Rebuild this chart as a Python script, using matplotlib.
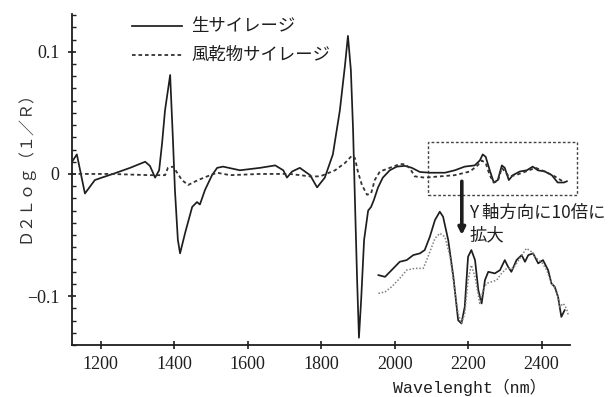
import matplotlib
matplotlib.use("Agg")
import matplotlib.pyplot as plt
from matplotlib.patches import Rectangle
from matplotlib.ticker import MultipleLocator

plt.rcParams['font.family'] = ['Liberation Serif', 'Noto Sans CJK JP']
JP = ['Noto Sans CJK JP', 'DejaVu Sans']

# second-derivative spectra, fresh silage (solid)
fresh_nm = [1122, 1135, 1157, 1184, 1203, 1233, 1280, 1321, 1334, 1348, 1359, 1367,
            1375, 1389, 1397, 1402, 1410, 1416, 1430, 1449, 1462, 1470, 1484, 1503,
            1517, 1533, 1579, 1634, 1675, 1697, 1707, 1721, 1742, 1770, 1789, 1810,
            1832, 1851, 1865, 1873, 1881, 1887, 1892, 1898, 1903, 1909, 1917, 1928,
            1936, 1944, 1955, 1968, 1987, 2006, 2028, 2047, 2069, 2096, 2137, 2164,
            2191, 2218, 2232, 2240, 2248, 2259, 2270, 2281, 2292, 2300, 2311, 2322,
            2341, 2360, 2376, 2390, 2409, 2428, 2444, 2461, 2469]
fresh_d2 = [0.010, 0.016, -0.016, -0.005, -0.003, 0.000, 0.005, 0.010, 0.0066, -0.003,
            0.003, 0.025, 0.052, 0.081, 0.025, -0.013, -0.054, -0.065, -0.048, -0.027,
            -0.023, -0.025, -0.013, -0.001, 0.005, 0.006, 0.003, 0.005, 0.007, 0.003,
            -0.003, 0.002, 0.005, -0.001, -0.011, -0.003, 0.016, 0.052, 0.089, 0.113,
            0.085, 0.036, -0.021, -0.087, -0.134, -0.103, -0.054, -0.030, -0.027,
            -0.021, -0.011, -0.003, 0.003, 0.006, 0.0066, 0.005, 0.0016, 0.001, 0.001,
            0.003, 0.006, 0.007, 0.011, 0.016, 0.014, 0.003, -0.007, -0.005, 0.007,
            0.005, -0.005, -0.001, 0.002, 0.003, 0.006, 0.003, 0.002, -0.001, -0.007,
            -0.007, -0.006]

# air-dried silage (dotted)
dried_nm = [1122, 1226, 1334, 1375, 1383, 1397, 1408, 1421, 1438, 1465, 1498, 1517,
            1552, 1634, 1715, 1770, 1797, 1838, 1865, 1884, 1892, 1900, 1911, 1925,
            1936, 1946, 1960, 1987, 2014, 2028, 2041, 2055, 2082, 2123, 2164, 2205,
            2226, 2237, 2248, 2259, 2270, 2281, 2292, 2311, 2330, 2357, 2384, 2409,
            2436, 2463]
dried_d2 = [0.000, 0.000, -0.001, -0.001, 0.005, 0.006, 0.001, -0.005, -0.009, -0.005,
            -0.001, 0.001, -0.001, 0.000, 0.000, -0.002, -0.002, 0.003, 0.009, 0.015,
            0.013, 0.002, -0.009, -0.017, -0.016, -0.005, 0.002, 0.005, 0.008, 0.008,
            0.005, -0.002, -0.003, -0.002, -0.001, 0.002, 0.007, 0.011, 0.009, -0.001,
            -0.007, -0.006, 0.005, -0.002, -0.001, 0.002, 0.005, 0.002, -0.002, -0.007]

# 10x expanded view of 1950-2470 nm, shown below the main trace
zoom_fresh_nm = [1956, 1974, 1992, 2014, 2033, 2051, 2069, 2082, 2096, 2110, 2123,
                 2132, 2146, 2160, 2173, 2182, 2191, 2200, 2209, 2219, 2228, 2237,
                 2246, 2255, 2273, 2287, 2300, 2309, 2318, 2332, 2346, 2355, 2364,
                 2377, 2391, 2404, 2418, 2427, 2436, 2445, 2454, 2463]
zoom_fresh_y = [-0.0828, -0.0842, -0.0787, -0.0719, -0.0705, -0.0664, -0.0650, -0.0623,
                -0.0514, -0.0377, -0.0309, -0.0350, -0.0541, -0.0842, -0.1197, -0.1224,
                -0.1088, -0.0678, -0.0623, -0.0705, -0.0951, -0.1060, -0.0869, -0.0801,
                -0.0814, -0.0787, -0.0705, -0.0760, -0.0801, -0.0705, -0.0664, -0.0719,
                -0.0664, -0.0650, -0.0732, -0.0705, -0.0787, -0.0896, -0.0924, -0.1006,
                -0.1170, -0.1115]
zoom_dried_nm = [1956, 1974, 1992, 2014, 2033, 2055, 2078, 2091, 2110, 2123, 2137, 2151,
                 2164, 2173, 2182, 2191, 2200, 2209, 2219, 2232, 2241, 2250, 2264, 2278,
                 2291, 2305, 2323, 2341, 2359, 2373, 2386, 2400, 2414, 2427, 2441, 2450,
                 2459, 2468, 2473]
zoom_dried_y = [-0.0978, -0.0965, -0.0924, -0.0855, -0.0787, -0.0773, -0.0773, -0.0678,
                -0.0527, -0.0486, -0.0514, -0.0678, -0.0951, -0.1142, -0.1224, -0.1142,
                -0.0869, -0.0746, -0.0842, -0.1060, -0.0951, -0.0896, -0.0883, -0.0869,
                -0.0814, -0.0773, -0.0773, -0.0691, -0.0609, -0.0637, -0.0691, -0.0719,
                -0.0787, -0.0896, -0.0951, -0.1088, -0.1060, -0.1101, -0.1156]

x_ticks = [1200, 1400, 1600, 1800, 2000, 2200, 2400]
y_ticks = [-0.1, 0, 0.1]
y_tick_labels = ['\u22120.1', '0', '0.1']

ink = '#1e1e1e'

fig = plt.figure(figsize=(6.16, 3.97), dpi=100)
ax = fig.add_axes([0.117, 0.131, 0.808, 0.834])

ax.plot(fresh_nm, fresh_d2, color=ink, lw=1.25)
ax.plot(dried_nm, dried_d2, color='#333333', lw=1.3, linestyle=(0, (2, 1.6)))
ax.plot(zoom_fresh_nm, zoom_fresh_y, color=ink, lw=1.25)
ax.plot(zoom_dried_nm, zoom_dried_y, color='#808080', lw=1.1, linestyle=(0, (1, 1.2)))

ax.set_xlim(1122, 2477)
ax.set_ylim(-0.140, 0.131)
for side in ['top', 'right']:
    ax.spines[side].set_visible(False)
for side in ['left', 'bottom']:
    ax.spines[side].set_linewidth(1.3)
    ax.spines[side].set_color(ink)

ax.set_xticks(x_ticks)
ax.set_yticks(y_ticks)
ax.set_yticklabels(y_tick_labels)
ax.yaxis.set_minor_locator(MultipleLocator(0.01))
ax.tick_params(axis='both', which='major', direction='inout', length=6, width=1.2,
               color=ink, labelsize=13, labelcolor=ink)
ax.tick_params(axis='x', which='major', pad=5)
ax.tick_params(axis='y', which='major', pad=6)
ax.tick_params(axis='y', which='minor', direction='in', length=3, width=1.0, color=ink)

# legend drawn by hand
ax.plot([0.120, 0.221], [0.964, 0.964], transform=ax.transAxes, color=ink, lw=1.25,
        clip_on=False)
ax.plot([0.120, 0.221], [0.876, 0.876], transform=ax.transAxes, color='#333333', lw=1.3,
        linestyle=(0, (2, 1.6)), clip_on=False)
ax.text(0.240, 0.964, '生サイレージ', transform=ax.transAxes, family=JP, fontsize=12.5,
        va='center', ha='left', color=ink)
ax.text(0.240, 0.876, '風乾物サイレージ', transform=ax.transAxes, family=JP, fontsize=12.5,
        va='center', ha='left', color=ink)

# region that is expanded below
ax.add_patch(Rectangle((2091, -0.0172), 405, 0.0434, fill=False, edgecolor='#444444',
                       lw=1.0, linestyle=(0, (2, 1.5)), clip_on=False))
ax.annotate('', xy=(2183, -0.050), xytext=(2183, -0.006),
            arrowprops=dict(arrowstyle='-|>', color=ink, lw=2.6, mutation_scale=10,
                            shrinkA=0, shrinkB=0))
ax.text(2203, -0.032, 'Y 軸方向に10倍に', family=JP, fontsize=12.5, va='center', ha='left',
        color=ink, clip_on=False)
ax.text(2203, -0.050, '拡大', family=JP, fontsize=12.5, va='center', ha='left', color=ink)

fig.text(0.040, 0.59, 'Ｄ２Ｌｏｇ（１／Ｒ）', rotation=90, family=JP, fontsize=11.5,
         va='center', ha='center', color='#333333')
fig.text(0.763, 0.025, 'Wavelenght（nm）', family=['Liberation Mono', 'Noto Sans CJK JP'],
         fontsize=12, va='center', ha='center', color=ink)

fig.savefig('out.png', dpi=100)
